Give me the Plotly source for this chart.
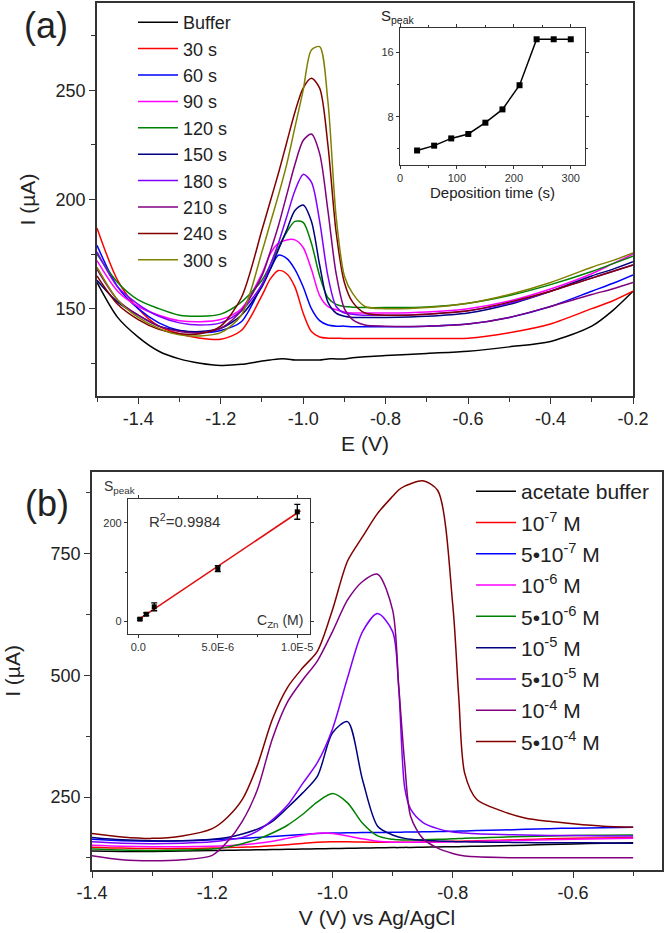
import numpy as np
import plotly.graph_objects as go

# ---------------- panel (a): deposition time series ----------------
E_a = [-1.5, -1.45, -1.4, -1.35, -1.3, -1.25, -1.2, -1.15, -1.1, -1.08, -1.06, -1.04, -1.02, -1.0,
       -0.98, -0.96, -0.94, -0.92, -0.9, -0.88, -0.85, -0.8, -0.7, -0.6, -0.5, -0.4, -0.3, -0.25, -0.2]

names_a = ["Buffer", "30 s", "60 s", "90 s", "120 s", "150 s", "180 s", "210 s", "240 s", "300 s"]
colors_a = ["#000000", "#FF0000", "#0000FF", "#FF00FF", "#008000", "#000080", "#8000FF", "#800080", "#800000", "#808000"]

I_buffer = [162, 146, 137, 130.5, 127, 125, 124, 124.5, 126, 126.5, 127, 127, 126.5, 126.5, 126.5, 126.5, 127, 127,
            127, 127.5, 128, 128.5, 129.5, 130.5, 132.5, 135, 142, 149, 158]
I_30 = [187, 163, 150, 142, 138.5, 136.5, 136, 140, 156, 163.5, 167.5, 166, 160, 148, 139.5, 137, 136.5, 136.5,
        136.3, 136.3, 136.3, 136.3, 136.3, 136.5, 139, 143, 150, 153.5, 158]
I_60 = [179, 160, 150, 143.5, 140, 139, 140, 144, 161, 168, 174.5, 173, 168, 160, 150, 144.5, 142.5, 142,
        142, 141.7, 141.7, 141.7, 142, 143, 146, 151, 158, 161.5, 165.5]
I_90 = [172, 158, 151, 147, 144.5, 144, 145, 150, 166, 175, 180, 181.5, 181.5, 178, 168, 156, 151, 149.5,
        148.5, 148, 148, 148, 148.5, 150, 153.5, 159, 166, 170.5, 175]
I_120 = [175, 162, 154, 150, 147, 146.5, 147.5, 153, 163, 170, 178, 185, 190, 189.5, 180, 165, 155, 152,
         151, 150.7, 150.5, 150.5, 150.8, 152.5, 156, 161, 167, 170.5, 174]
I_150 = [163, 153, 147, 142, 140, 139.5, 141, 147, 160, 168, 177, 186, 195, 197.5, 190, 170, 153, 148,
         146.5, 146, 146, 146, 146.5, 148, 152, 158, 165, 168, 171.5]
I_180 = [176, 160, 152, 146.5, 143.5, 142.5, 143.5, 149, 161, 170, 180, 192, 204, 211.5, 208, 190, 165, 151,
         148, 147.5, 147, 147, 147.5, 149, 152.5, 158, 164, 167, 170]
I_210 = [168, 154, 147, 142, 139.5, 139, 141, 149, 165, 176, 188, 202, 216, 227, 230, 221, 195, 166,
         150, 145, 142.5, 142, 142, 143, 146, 151, 156.5, 159, 162]
I_240 = [165, 152, 145, 140.5, 138.5, 138.5, 142, 155, 186, 199, 212, 226, 240, 251, 255.5, 251, 225, 185,
         162, 153, 148, 147, 147.5, 149, 153, 158, 164, 167, 170]
I_300 = [169, 154, 146, 141, 138, 137.5, 139, 147, 176, 189, 202, 216, 233, 250, 268.5, 270, 245, 192,
         165, 157, 151, 150, 150.5, 152.5, 156.5, 162, 169, 172, 175.5]
curves_a = [I_buffer, I_30, I_60, I_90, I_120, I_150, I_180, I_210, I_240, I_300]

# inset (a)
dep_time = [30, 60, 90, 120, 150, 180, 210, 240, 270, 300]
s_peak_a = [3.8, 4.4, 5.3, 5.85, 7.25, 8.9, 11.9, 17.6, 17.6, 17.6]

# ---------------- panel (b): concentration series ----------------
V_b = [-1.4, -1.35, -1.3, -1.25, -1.2, -1.175, -1.15, -1.125, -1.1, -1.075, -1.05, -1.025, -1.0, -0.975,
       -0.95, -0.925, -0.9, -0.89, -0.88, -0.87, -0.85, -0.825, -0.8, -0.79, -0.78, -0.76, -0.72, -0.68,
       -0.64, -0.6, -0.55, -0.5]

names_b = ["acetate buffer", "10<sup>-7</sup> M", "5•10<sup>-7</sup> M", "10<sup>-6</sup> M", "5•10<sup>-6</sup> M",
           "10<sup>-5</sup> M", "5•10<sup>-5</sup> M", "10<sup>-4</sup> M", "5•10<sup>-4</sup> M"]
colors_b = ["#000000", "#FF0000", "#0000FF", "#FF00FF", "#008000", "#000080", "#8000FF", "#800080", "#800000"]

J_buffer = [139, 138, 138, 139, 140, 140.5, 141, 141.5, 142, 142.5, 143, 143.5, 144, 144.5, 145, 145.5, 146, 146,
            146.5, 146.5, 147, 147.5, 148, 148, 148.5, 149, 150, 151, 152.5, 153.5, 155, 156]
J_1e7 = [147, 145, 144, 144, 145, 146, 147, 148, 150, 152, 154.5, 157, 158, 158, 157.5, 157, 157, 157, 157, 157,
         157.5, 158, 159, 159, 159.5, 160, 161, 162.5, 164, 165, 166, 167]
J_5e7 = [163, 160, 159, 160, 162, 163.5, 165, 167, 169, 171, 173, 175, 176, 176.5, 177, 177, 177.5, 177.5, 178,
         178, 178.5, 179, 179.5, 180, 180, 181, 182, 183.5, 185, 186, 187, 188]
J_1e6 = [151, 149, 148, 148, 149, 150, 152, 155, 159, 165, 171, 175.5, 175, 170, 164, 159, 157, 157, 157, 157,
         157, 157.5, 158, 158, 158.5, 159, 160, 161, 162, 163, 164, 165]
J_5e6 = [143, 141, 140, 141, 143, 147, 154, 163, 176, 192, 214, 240, 257, 238, 196, 170, 163, 162, 161.5, 161.5,
         162, 163, 164, 164.5, 165, 166, 167.5, 169, 170, 171, 171.5, 172]
J_1e5 = [167, 162, 160, 160, 163, 167, 174, 184, 200, 228, 258, 293, 382, 405, 285, 190, 172, 168, 165, 163,
         161, 159.5, 158.5, 158, 158, 157.5, 157, 156.5, 156, 156, 155.5, 155]
J_5e5 = [158, 155, 154, 155, 158, 162, 167, 180, 203, 233, 277, 321, 390, 495, 590, 627, 590, 477, 270, 225,
         198, 185, 178, 177, 176, 174.5, 173, 172, 171, 171, 170, 170]
J_1e4 = [129.5, 121, 119, 121, 130, 158, 200, 265, 370, 445, 490, 530, 590, 655, 693, 708, 634, 480, 320, 210,
         165, 145, 134, 131, 129, 127, 125.5, 125, 125, 125, 125, 125]
J_5e4 = [175, 168, 165, 170, 185, 208, 245, 315, 410, 475, 515, 550, 635, 735, 785, 833, 868, 881, 889, 894,
         900, 880, 645, 455, 298, 245, 222, 207, 200, 195, 190, 188]
curves_b = [J_buffer, J_1e7, J_5e7, J_1e6, J_5e6, J_1e5, J_5e5, J_1e4, J_5e4]

# inset (b)
conc = [1e-7, 5e-7, 1e-6, 5e-6, 1e-5]
s_peak_b = [5, 15, 30, 107, 222]
s_err_b = [2, 3, 8, 6, 15]
fit_x = [0.0, 1.02e-5]

W, H = 666, 933
FONT = "Liberation Sans, Arial, sans-serif"
AX = "#333333"


def px(x):
    return x / W


def py(y):
    return 1 - y / H


fig = go.Figure()

for name, col, ys in zip(names_a, colors_a, curves_a):
    fig.add_trace(go.Scatter(x=E_a, y=ys, mode="lines", name=name, legend="legend", legendgroup=name,
                             line=dict(color=col, width=1.5, shape="spline", smoothing=0.8),
                             xaxis="x", yaxis="y"))

for name, col, ys in zip(names_b, colors_b, curves_b):
    fig.add_trace(go.Scatter(x=V_b, y=ys, mode="lines", name=name, legend="legend2", legendgroup=name,
                             line=dict(color=col, width=1.5, shape="spline", smoothing=0.8),
                             xaxis="x2", yaxis="y2"))

fig.add_trace(go.Scatter(x=dep_time, y=s_peak_a, mode="lines+markers", showlegend=False,
                         line=dict(color="black", width=1.5),
                         marker=dict(symbol="square", size=6, color="black"),
                         xaxis="x3", yaxis="y3"))

slope, icpt = np.polyfit(conc, s_peak_b, 1)
fig.add_trace(go.Scatter(x=fit_x, y=[slope * v + icpt for v in fit_x], mode="lines", showlegend=False,
                         line=dict(color="#E01010", width=1.6), xaxis="x4", yaxis="y4"))
fig.add_trace(go.Scatter(x=conc, y=s_peak_b, mode="markers", showlegend=False,
                         marker=dict(symbol="square", size=5, color="black"),
                         error_y=dict(type="data", array=s_err_b, color="black", thickness=1.3, width=3),
                         xaxis="x4", yaxis="y4"))


def lbl(v):
    return f"{v:.1f}"


main_ax = dict(showline=True, linewidth=1.6, linecolor=AX, mirror=True, ticks="outside", ticklen=6,
               tickwidth=1.3, tickcolor=AX, showgrid=False, zeroline=False, automargin=False,
               tickfont=dict(size=18, color="#222"))
ins_ax = dict(showline=True, linewidth=1.3, linecolor=AX, mirror="allticks", ticks="outside", ticklen=3,
              tickwidth=1, tickcolor=AX, showgrid=False, zeroline=False, automargin=False,
              tickfont=dict(size=11, color="#333"))

xt_a = [-1.4, -1.2, -1.0, -0.8, -0.6, -0.4, -0.2]
xt_b = [-1.4, -1.2, -1.0, -0.8, -0.6]


def note(text, x, y, size, anchor="center", color="#222"):
    return dict(text=text, x=px(x), y=py(y), xref="paper", yref="paper", showarrow=False,
                xanchor=anchor, yanchor="middle", font=dict(size=size, color=color))


fig.update_layout(
    width=W, height=H, margin=dict(l=0, r=0, t=0, b=0, autoexpand=False),
    paper_bgcolor="white", plot_bgcolor="white",
    font=dict(family=FONT, color="#222"),
    xaxis=dict(main_ax, domain=[px(97), px(633)], anchor="y", range=[-1.5, -0.2],
               tickvals=xt_a, ticktext=[lbl(v) for v in xt_a],
               minor=dict(tickvals=[-1.5, -1.3, -1.1, -0.9, -0.7, -0.5, -0.3], ticks="outside", ticklen=4,
                          tickcolor=AX),
               title=dict(text="E (V)", font=dict(size=21), standoff=8)),
    yaxis=dict(main_ax, domain=[py(396), py(3)], anchor="x", range=[110, 290], tickvals=[150, 200, 250],
               minor=dict(tick0=0, dtick=25, ticks="outside", ticklen=4, tickcolor=AX),
               title=dict(text="I (µA)", font=dict(size=21), standoff=14)),
    xaxis2=dict(main_ax, domain=[px(92), px(662)], anchor="y2", range=[-1.4, -0.452],
                tickvals=xt_b, ticktext=[lbl(v) for v in xt_b],
                minor=dict(tickvals=[-1.3, -1.1, -0.9, -0.7, -0.5], ticks="outside", ticklen=4, tickcolor=AX),
                title=dict(text="V (V) vs Ag/AgCl", font=dict(size=21), standoff=8)),
    yaxis2=dict(main_ax, domain=[py(870), py(472)], anchor="x2", range=[100, 918], tickvals=[250, 500, 750],
                minor=dict(tick0=0, dtick=125, ticks="outside", ticklen=4, tickcolor=AX),
                title=dict(text="I (µA)", font=dict(size=21), standoff=24)),
    xaxis3=dict(ins_ax, domain=[px(400), px(585)], anchor="y3", range=[0, 325], tickvals=[0, 100, 200, 300],
                minor=dict(tick0=0, dtick=50, ticks="outside", ticklen=2, tickcolor=AX),
                title=dict(text="Deposition time (s)", font=dict(size=15), standoff=2)),
    yaxis3=dict(ins_ax, domain=[py(165), py(28)], anchor="x3", range=[2, 19], tickvals=[8, 16],
                minor=dict(tickvals=[4, 12], ticks="outside", ticklen=2, tickcolor=AX)),
    xaxis4=dict(ins_ax, domain=[px(128), px(310)], anchor="y4", range=[-6.5e-7, 1.08e-5],
                tickvals=[0, 5e-6, 1e-5], ticktext=["0.0", "5.0E-6", "1.0E-5"],
                minor=dict(tickvals=[2.5e-6, 7.5e-6], ticks="outside", ticklen=2, tickcolor=AX)),
    yaxis4=dict(ins_ax, domain=[py(634), py(499)], anchor="x4", range=[-25, 248], tickvals=[0, 200],
                minor=dict(tickvals=[100], ticks="outside", ticklen=2, tickcolor=AX)),
    legend=dict(x=px(133), y=py(4), xanchor="left", yanchor="top", bgcolor="rgba(0,0,0,0)",
                font=dict(size=18, color="#222"), tracegroupgap=0, itemwidth=40),
    legend2=dict(x=px(471), y=py(471), xanchor="left", yanchor="top", bgcolor="rgba(0,0,0,0)",
                 font=dict(size=21, color="#222"), tracegroupgap=1, itemwidth=40),
    annotations=[
        note("(a)", 46, 26, 36),
        note("(b)", 47, 503, 36),
        note("S<sub>peak</sub>", 379, 17, 15, "left"),
        note("S<sub>peak</sub>", 102, 487, 14, "left", "#333"),
        note("R<sup>2</sup>=0.9984", 147, 520, 15, "left", "#333"),
        note("C<sub>Zn</sub> (M)", 305, 621, 14, "right", "#333"),
    ],
)

fig.write_html("out.html", config={"displayModeBar": False},
               post_script="document.body.style.margin='0px';")
